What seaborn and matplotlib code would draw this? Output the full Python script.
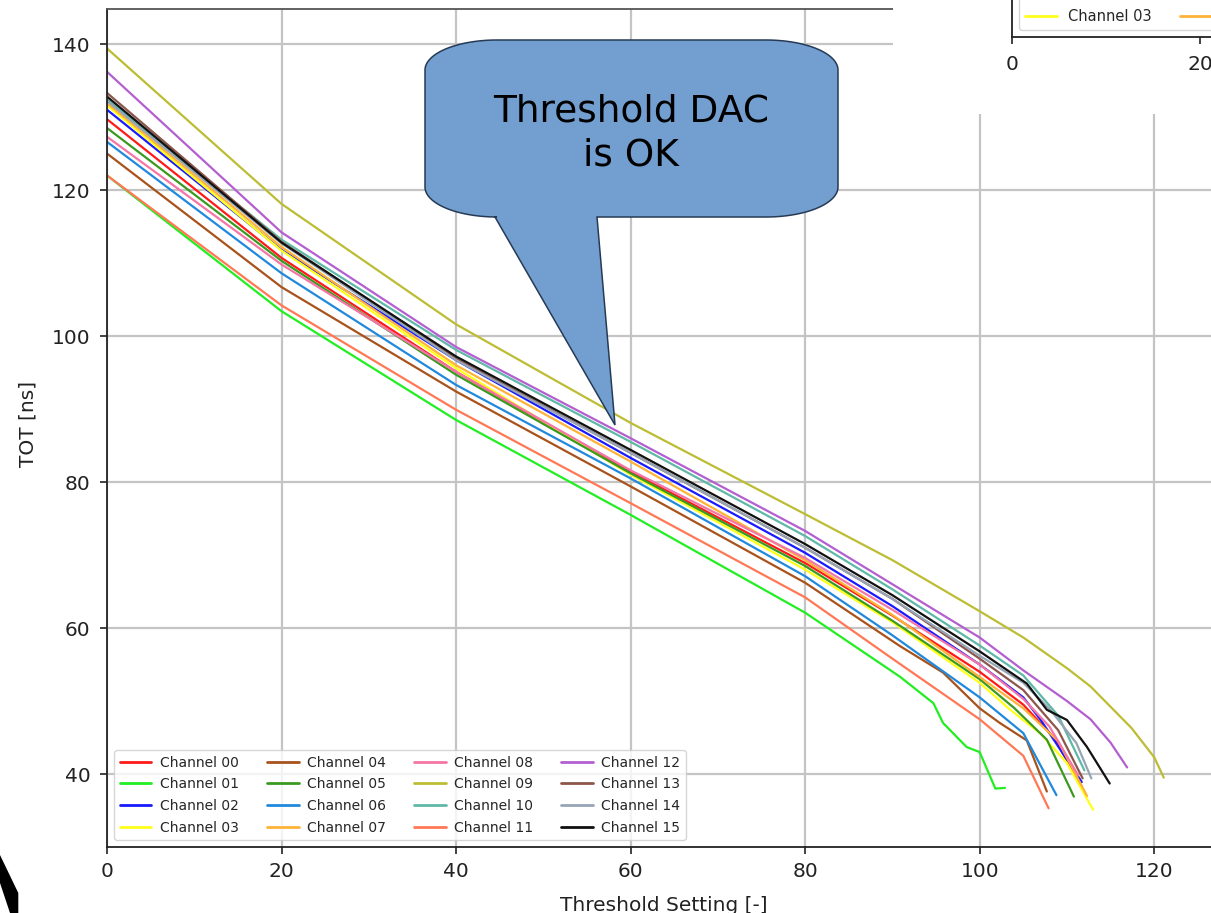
import numpy as np
import pandas as pd
import matplotlib
matplotlib.use("Agg")
import matplotlib.pyplot as plt
from matplotlib.patches import Polygon, Rectangle
from matplotlib.lines import Line2D
import seaborn as sns

# ---- TOT vs threshold setting, one curve per channel ----
ch00_x = [0, 20, 40, 60, 80, 90, 100, 105, 108.5, 111.7]
ch00_tot = [129.7, 110.7, 95.1, 81.4, 68.9, 61.7, 54.0, 49.5, 45.0, 38.3]
ch01_x = [0, 20, 40, 60, 80, 90.9, 94.7, 95.8, 98.5, 100, 101.8, 102.9]
ch01_tot = [122.0, 103.4, 88.5, 75.5, 62.1, 53.3, 49.7, 47.0, 43.7, 43.0, 38.0, 38.1]
ch02_x = [0, 20, 40, 60, 80, 90, 100, 105, 107, 111.7]
ch02_tot = [131.0, 111.8, 96.7, 83.3, 70.3, 63.0, 55.0, 50.5, 47.4, 38.9]
ch03_x = [0, 20, 40, 60, 80, 90, 100, 103.5, 107, 110, 113]
ch03_tot = [131.6, 111.7, 95.6, 81.0, 68.0, 60.8, 52.5, 48.8, 45.5, 41.5, 35.1]
ch04_x = [0, 20, 40, 60, 80, 90.9, 95.8, 100, 102.3, 105.4, 107.7]
ch04_tot = [125.0, 106.7, 92.4, 79.4, 66.2, 57.5, 53.9, 49.0, 47.0, 44.6, 37.6]
ch05_x = [0, 20, 40, 60, 80, 90, 100, 104, 107.7, 110.8]
ch05_tot = [128.5, 110.3, 94.7, 81.2, 68.5, 61.0, 53.0, 49.0, 44.7, 36.9]
ch06_x = [0, 20, 40, 60, 80, 90, 100, 105, 108.8]
ch06_tot = [126.6, 108.6, 93.3, 80.5, 67.1, 59.0, 50.5, 45.6, 37.1]
ch07_x = [0, 20, 40, 60, 80, 90, 100, 105, 109, 112.3]
ch07_tot = [131.9, 112.2, 96.0, 82.8, 69.3, 61.8, 53.3, 49.0, 44.5, 37.0]
ch08_x = [0, 20, 40, 60, 80, 90, 100, 105, 108, 111.3]
ch08_tot = [127.3, 109.8, 95.1, 81.6, 69.6, 62.5, 55.0, 50.3, 46.5, 39.8]
ch09_x = [0, 20, 40, 60, 80, 90, 100, 105, 110, 112.7, 117.4, 120, 121.1]
ch09_tot = [139.4, 118.1, 101.6, 88.1, 75.6, 69.3, 62.3, 58.7, 54.5, 52.0, 46.3, 42.3, 39.5]
ch10_x = [0, 20, 40, 60, 80, 90, 100, 105, 109, 112]
ch10_tot = [132.4, 113.2, 98.1, 85.5, 72.6, 65.3, 57.6, 53.5, 48.0, 40.5]
ch11_x = [0, 20, 40, 60, 80, 90, 100, 105, 107.9]
ch11_tot = [122.0, 104.2, 89.9, 77.1, 64.2, 55.8, 47.5, 42.5, 35.3]
ch12_x = [0, 20, 40, 60, 80, 90, 100, 105, 110, 112.7, 115, 116.9]
ch12_tot = [136.2, 114.2, 98.5, 86.0, 73.3, 66.0, 58.7, 54.2, 50.0, 47.5, 44.3, 40.9]
ch13_x = [0, 20, 40, 60, 80, 90, 100, 105, 109, 111.8]
ch13_tot = [133.3, 112.9, 96.9, 84.0, 71.0, 64.0, 55.8, 51.5, 46.0, 39.4]
ch14_x = [0, 20, 40, 60, 80, 90, 100, 105, 108.1, 111.1, 112.8]
ch14_tot = [132.2, 112.7, 96.7, 84.0, 71.0, 64.0, 56.2, 52.5, 48.8, 44.2, 39.4]
ch15_x = [0, 20, 40, 60, 80, 90, 100, 105.4, 107.7, 110, 112.3, 114.9]
ch15_tot = [132.8, 112.8, 97.2, 84.4, 71.5, 64.5, 56.8, 52.4, 48.8, 47.4, 43.7, 38.7]

channel_labels = [f"Channel {i:02d}" for i in range(16)]
channel_colors = ["#ff1a1a", "#22ee22", "#1a1aff", "#ffff1a", "#a8521c", "#3a9a1f",
                  "#2089dc", "#ffb238", "#f476a6", "#bcbd33", "#5fb8a8", "#ff7855",
                  "#b35fd0", "#8c564b", "#95a5b5", "#111111"]
xs = [ch00_x, ch01_x, ch02_x, ch03_x, ch04_x, ch05_x, ch06_x, ch07_x,
      ch08_x, ch09_x, ch10_x, ch11_x, ch12_x, ch13_x, ch14_x, ch15_x]
ys = [ch00_tot, ch01_tot, ch02_tot, ch03_tot, ch04_tot, ch05_tot, ch06_tot, ch07_tot,
      ch08_tot, ch09_tot, ch10_tot, ch11_tot, ch12_tot, ch13_tot, ch14_tot, ch15_tot]

frames = [pd.DataFrame({"threshold": x, "tot": y, "channel": lab})
          for x, y, lab in zip(xs, ys, channel_labels)]
df = pd.concat(frames, ignore_index=True)
palette = dict(zip(channel_labels, channel_colors))

sns.set_theme(style="ticks")
plt.rcParams["font.family"] = ["DejaVu Sans"]

W, H = 1211, 913
fig = plt.figure(figsize=(W / 100, H / 100), dpi=100)
fig.patch.set_facecolor("white")

# main axes (extends past the right edge of the canvas)
ax = fig.add_axes([107 / W, (H - 847) / H, 1117 / W, 838 / H], zorder=1)
sns.lineplot(data=df, x="threshold", y="tot", hue="channel", hue_order=channel_labels,
             palette=palette, estimator=None, sort=False, legend=False,
             linewidth=1.6, ax=ax)
ax.set_xlim(0, 128)
ax.set_ylim(30, 144.8)
ax.set_xticks([0, 20, 40, 60, 80, 100, 120])
ax.set_yticks([40, 60, 80, 100, 120, 140])
ax.grid(True, color="#c4c4c4", linewidth=1.6)
ax.set_axisbelow(True)
for s in ["left", "bottom", "top"]:
    ax.spines[s].set_color("#222222")
    ax.spines[s].set_linewidth(1.3)
ax.spines["top"].set_color("#555555")
ax.tick_params(direction="out", length=5, width=1.2, labelsize=14.5, colors="#222222")
ax.tick_params(axis="y", pad=7)
ax.tick_params(axis="x", pad=6)
ax.set_xlabel("Threshold Setting [-]", fontsize=14.5, color="#222222")
ax.set_ylabel("TOT [ns]", fontsize=14.5, color="#222222")
ax.xaxis.set_label_coords((664 - 107) / 1117, -0.058)
ax.yaxis.set_label_coords(-0.062, 0.505)

handles = [Line2D([], [], color=c, lw=2) for c in channel_colors]
leg = ax.legend(handles, channel_labels, loc="lower left", ncol=4, fontsize=10,
                handlelength=2.3, handletextpad=0.6, columnspacing=2.0,
                labelspacing=0.55, borderaxespad=0.5, frameon=True)
leg.get_frame().set_edgecolor("#cccccc")

# overlay in pixel coordinates for the callout and the panel pieces
ov = fig.add_axes([0, 0, 1, 1], zorder=5)
ov.set_xlim(0, W)
ov.set_ylim(H, 0)
ov.axis("off")
ov.patch.set_alpha(0)

ov.add_patch(Rectangle((893, 0), W - 893, 114, facecolor="white", edgecolor="none"))
ov.add_patch(Polygon([(0, 855), (18.3, 893), (18.3, 913), (10, 913), (0, 883)],
                     closed=True, facecolor="black", edgecolor="none"))

# speech-bubble callout
left, right, top, bottom = 425, 838, 40, 217
rx, ry = 72, 30
def arc(cx, cy, a0, a1, n=30):
    t = np.radians(np.linspace(a0, a1, n))
    return list(zip(cx + rx * np.cos(t), cy + ry * np.sin(t)))
pts = []
pts += arc(right - rx, top + ry, -90, 0)
pts += arc(right - rx, bottom - ry, 0, 90)
pts += [(597, bottom), (615, 425), (495, bottom)]
pts += arc(left + rx, bottom - ry, 90, 180)
pts += arc(left + rx, top + ry, 180, 270)
ov.add_patch(Polygon(pts, closed=True, facecolor="#729fcf", edgecolor="#263a55", linewidth=1.1))
ov.text(631, 121, "Threshold DAC", ha="center", va="baseline", fontsize=27, color="black")
ov.text(631, 166, "is OK", ha="center", va="baseline", fontsize=27, color="black")

# neighbouring panel peeking in at the top right
ins = fig.add_axes([1012 / W, (H - 37) / H, 0.4, 0.3], zorder=6)
ins.set_facecolor("white")
ins.set_xlim(0, 0.4 * W / 9.4)
ins.set_ylim(0, 1)
ins.set_xticks([0, 20, 40])
ins.set_yticks([])
for s in ["left", "bottom"]:
    ins.spines[s].set_color("#222222")
    ins.spines[s].set_linewidth(1.3)
ins.tick_params(direction="out", length=5, width=1.2, labelsize=14.5, colors="#222222", pad=8)
ileg = ins.legend([Line2D([], [], color=c, lw=2) for c in channel_colors], channel_labels,
                  loc="lower left", ncol=4, fontsize=10.5, handlelength=2.2,
                  handletextpad=0.75, columnspacing=1.9, labelspacing=0.42,
                  borderaxespad=0.5, frameon=True)
ileg.get_frame().set_edgecolor("#cccccc")

fig.savefig("out.png", dpi=100)
